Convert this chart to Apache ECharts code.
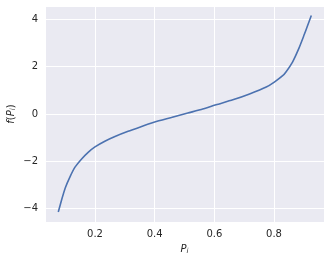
<!DOCTYPE html>
<html>
<head>
<meta charset="utf-8">
<script src="https://cdn.jsdelivr.net/npm/echarts@6/dist/echarts.min.js"></script>
<style>
html,body{margin:0;padding:0;background:#fff;}
#c{width:330px;height:262px;}
</style>
</head>
<body>
<div id="c"></div>
<script>
const pValues = [0.077, 0.089, 0.100, 0.117, 0.133, 0.156, 0.178, 0.200, 0.233, 0.267, 0.311, 0.356, 0.400, 0.456, 0.511, 0.561, 0.606, 0.662, 0.718, 0.774, 0.801, 0.829, 0.840, 0.862, 0.884, 0.901, 0.912, 0.925];
const fValues = [-4.15, -3.60, -3.14, -2.64, -2.25, -1.89, -1.61, -1.39, -1.15, -0.95, -0.73, -0.53, -0.34, -0.15, 0.04, 0.21, 0.39, 0.60, 0.85, 1.14, 1.35, 1.62, 1.78, 2.20, 2.80, 3.35, 3.72, 4.17];
const xTickLabels = ['0.2', '0.4', '0.6', '0.8'];
const yTickLabels = ['\u22124', '\u22122', '0', '2', '4'];

const font = 'DejaVu Sans';
const textColor = '#262626';
const rich = {
  n: {fontFamily: font, fontSize: 10, color: textColor},
  i: {fontFamily: font, fontSize: 10, fontStyle: 'italic', color: textColor},
  s: {fontFamily: font, fontSize: 7, fontStyle: 'italic', color: textColor, padding: [4, 0, 0, 0]}
};

const chart = echarts.init(document.getElementById('c'), null, {renderer: 'canvas'});
chart.setOption({
  animation: false,
  backgroundColor: '#ffffff',
  grid: {left: 45, right: 6, top: 6, bottom: 40, show: true, backgroundColor: '#EAEAF2', borderWidth: 0,
         containLabel: false, outerBoundsMode: 'none'},
  xAxis: {
    type: 'value', min: 0.0325, max: 0.9675,
    axisLine: {show: false}, axisTick: {show: false},
    splitLine: {show: true, lineStyle: {color: '#ffffff', width: 1}},
    axisLabel: {
      showMinLabel: false, showMaxLabel: false, margin: 7,
      fontFamily: font, fontSize: 10, color: textColor,
      formatter: function (v) {
        const s = v.toFixed(1);
        return xTickLabels.indexOf(s) >= 0 ? s : '';
      }
    },
    name: '{i|P}{s|i}', nameLocation: 'middle', nameGap: 22, nameMoveOverlap: false,
    nameTextStyle: {rich: rich}
  },
  yAxis: {
    type: 'value', min: -4.57, max: 4.57,
    axisLine: {show: false}, axisTick: {show: false},
    splitLine: {show: true, lineStyle: {color: '#ffffff', width: 1}},
    axisLabel: {
      showMinLabel: false, showMaxLabel: false, margin: 7,
      fontFamily: font, fontSize: 10, color: textColor,
      formatter: function (v) {
        const r = Math.round(v);
        const s = r < 0 ? '\u2212' + Math.abs(r) : String(r);
        return yTickLabels.indexOf(s) >= 0 ? s : '';
      }
    },
    name: '{i|f}{n|(}{i|P}{s|i}{n|)}', nameLocation: 'middle', nameGap: 28, nameMoveOverlap: false,
    nameTextStyle: {rich: rich}
  },
  series: [{
    type: 'line',
    data: pValues.map((p, k) => [p, fValues[k]]),
    showSymbol: false,
    smooth: 0.2,
    lineStyle: {color: '#4C72B0', width: 1.6},
    itemStyle: {color: '#4C72B0'}
  }]
});
</script>
</body>
</html>
